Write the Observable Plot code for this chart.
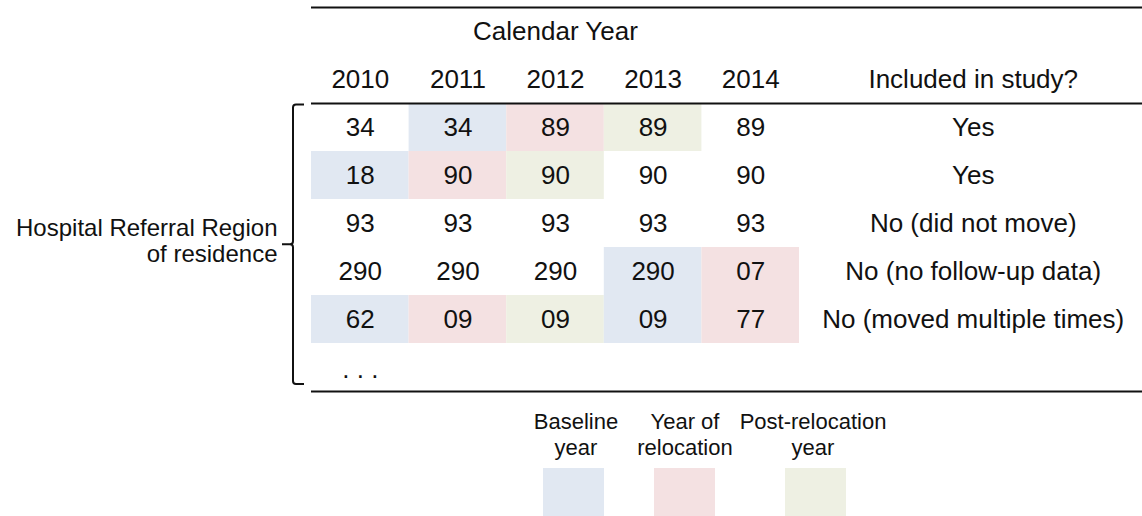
<!DOCTYPE html>
<html>
<head>
<meta charset="utf-8">
<script src="https://cdn.jsdelivr.net/npm/d3@7"></script>
<script src="https://cdn.jsdelivr.net/npm/@observablehq/plot@0.6"></script>
<style>
  html, body { margin: 0; padding: 0; background: #fff; }
  #wrap { width: 1142px; font-family: "Liberation Sans", Arial, sans-serif; color: #111; }
  #legend { position: relative; width: 1142px; height: 116px; }
  .lg-label { position: absolute; top: 9px; width: 160px; text-align: center; font-size: 22px; line-height: 26px; white-space: pre; }
  .lg-swatch { position: absolute; top: 68px; width: 61px; height: 48px; }
</style>
</head>
<body>
<div id="wrap"><div id="chart"></div><div id="legend"></div></div>
<script>
// ---------- data ----------
const years = [2010, 2011, 2012, 2013, 2014];
const hrrCodes = [
  ["34", "34", "89", "89", "89"],
  ["18", "90", "90", "90", "90"],
  ["93", "93", "93", "93", "93"],
  ["290", "290", "290", "290", "07"],
  ["62", "09", "09", "09", "77"]
];
// B = baseline year, R = year of relocation, P = post-relocation year
const relocationStatus = [
  [null, "B", "R", "P", null],
  ["B", "R", "P", null, null],
  [null, null, null, null, null],
  [null, null, null, "B", "R"],
  ["B", "R", "P", "B", "R"]
];
const includedLabels = ["Yes", "Yes", "No (did not move)", "No (no follow-up data)", "No (moved multiple times)"];
const statusCodes = ["B", "R", "P"];
const statusLabels = ["Baseline\nyear", "Year of\nrelocation", "Post-relocation\nyear"];
const statusColors = ["#e1e8f2", "#f4e1e2", "#eef0e3"];
const headerTitle = "Calendar Year";
const includedTitle = "Included in study?";
const rowAxisLabel = "Hospital Referral Region\nof residence";
const moreRows = ". . .";

// ---------- layout ----------
const FONT = 26;
const LABEL_FONT = 24;
const INCLUDED_COL = 6.78;     // centre of the "Included" column, in column units
const legendCenters = [576, 685, 813];
const swatchCenters = [573, 684, 815];

const cells = hrrCodes.flatMap((row, r) =>
  row.map((v, c) => ({row: r, col: c, value: v, status: relocationStatus[r][c]})));
const rows = includedLabels.map((t, r) => ({row: r, text: t}));

function bracket(index, scales) {
  const x0 = scales.x(0), X = x0 - 18;
  const yT = scales.y(0) + 1.5, yB = scales.y(6) - 7, yM = (yT + yB) / 2;
  const p = `M${X + 11},${yT} H${X + 3} Q${X},${yT} ${X},${yT + 3} V${yM - 3} Q${X},${yM} ${X - 3},${yM} H${X - 11} ` +
            `M${X - 3},${yM} Q${X},${yM} ${X},${yM + 3} V${yB - 3} Q${X},${yB} ${X + 3},${yB} H${X + 11}`;
  return d3.create("svg:path").attr("d", p).attr("fill", "none")
    .attr("stroke", "#111").attr("stroke-width", 2).node();
}

const chart = Plot.plot({
  width: 1142,
  height: 400,
  marginLeft: 311,
  marginRight: 0,
  marginTop: 7,
  marginBottom: 9,
  style: {fontFamily: '"Liberation Sans", Arial, sans-serif', fontSize: FONT + "px", color: "#111", background: "#fff", overflow: "visible"},
  x: {type: "linear", domain: [0, 831 / 97.6], axis: null},
  y: {type: "linear", domain: [-2, 6], reverse: true, axis: null},
  color: {type: "ordinal", domain: statusCodes, range: statusColors},
  marks: [
    Plot.rect(cells.filter(d => d.status), {
      x1: d => d.col, x2: d => d.col + 1, y1: d => d.row, y2: d => d.row + 1, fill: "status"
    }),
    Plot.text(cells, {x: d => d.col + 0.5, y: d => d.row + 0.5, text: "value", fontSize: FONT, fill: "#111"}),
    Plot.text(rows, {x: () => INCLUDED_COL, y: d => d.row + 0.5, text: "text", fontSize: FONT, fill: "#111"}),
    Plot.text(years, {x: (d, i) => i + 0.5, y: () => -0.5, text: d => String(d), fontSize: FONT, fill: "#111"}),
    Plot.text([includedTitle], {x: () => INCLUDED_COL, y: () => -0.5, text: d => d, fontSize: FONT, fill: "#111"}),
    Plot.text([headerTitle], {x: () => years.length / 2, y: () => -1.5, text: d => d, fontSize: FONT, fill: "#111"}),
    Plot.text([moreRows], {x: () => 0.5, y: () => 5.5, text: d => d, dy: 2, fontSize: FONT, fill: "#111"}),
    Plot.text([rowAxisLabel], {frameAnchor: "left", y: () => 3, text: d => d, textAnchor: "end", dx: -34, dy: -7, lineHeight: 1.08, fontSize: LABEL_FONT, fill: "#111"}),
    Plot.ruleY([-2, 0, 6], {stroke: "#111", strokeWidth: 2}),
    bracket
  ]
});
document.getElementById("chart").appendChild(chart);

// ---------- legend ----------
const legend = d3.select("#legend");
statusCodes.forEach((code, i) => {
  legend.append("div").attr("class", "lg-label")
    .style("left", (legendCenters[i] - 80) + "px").text(statusLabels[i]);
  legend.append("div").attr("class", "lg-swatch")
    .style("left", (swatchCenters[i] - 30.5) + "px")
    .style("background", statusColors[i]);
});
</script>
</body>
</html>
